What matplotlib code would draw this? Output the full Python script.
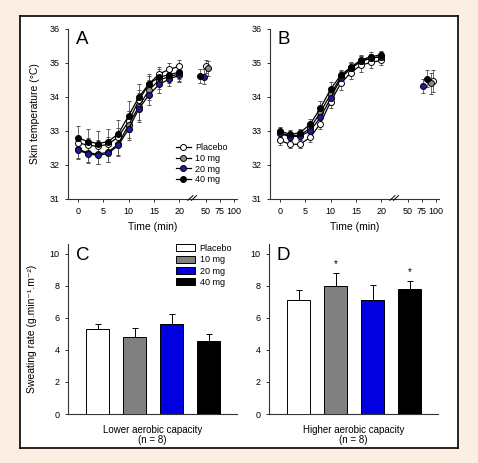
import matplotlib.pyplot as plt
import matplotlib.patches as mpatches
from matplotlib.lines import Line2D
import numpy as np

plt.rcParams['font.family'] = ['Liberation Sans', 'DejaVu Sans']
plt.rcParams['font.size'] = 7

# ---- data ----
groups = ['Placebo', '10 mg', '20 mg', '40 mg']
times = [0, 2, 4, 6, 8, 10, 12, 14, 16, 18, 20]

A_vals = {
    'Placebo': [32.66, 32.58, 32.55, 32.61, 32.83, 33.28, 33.90, 34.38, 34.68, 34.81, 34.91],
    '10 mg':   [32.47, 32.36, 32.32, 32.38, 32.62, 33.18, 33.72, 34.20, 34.50, 34.60, 34.68],
    '20 mg':   [32.44, 32.33, 32.28, 32.34, 32.58, 33.06, 33.65, 34.06, 34.37, 34.53, 34.64],
    '40 mg':   [32.80, 32.69, 32.63, 32.69, 32.92, 33.45, 33.99, 34.39, 34.58, 34.66, 34.73],
}
A_err = {
    'Placebo': [0.20, 0.20, 0.20, 0.20, 0.25, 0.30, 0.30, 0.25, 0.20, 0.18, 0.18],
    '10 mg':   [0.30, 0.30, 0.30, 0.30, 0.35, 0.40, 0.40, 0.30, 0.25, 0.20, 0.20],
    '20 mg':   [0.22, 0.25, 0.25, 0.25, 0.30, 0.32, 0.38, 0.30, 0.25, 0.22, 0.20],
    '40 mg':   [0.36, 0.36, 0.37, 0.38, 0.40, 0.42, 0.38, 0.30, 0.25, 0.20, 0.20],
}
A_post_t = {'Placebo': 50, '10 mg': 53, '20 mg': 47, '40 mg': 40}
A_post = {'Placebo': 34.90, '10 mg': 34.85, '20 mg': 34.60, '40 mg': 34.62}
A_post_err = {'Placebo': 0.20, '10 mg': 0.22, '20 mg': 0.22, '40 mg': 0.20}

B_vals = {
    'Placebo': [32.73, 32.61, 32.61, 32.81, 33.22, 33.86, 34.40, 34.72, 34.94, 35.02, 35.08],
    '10 mg':   [32.95, 32.86, 32.88, 33.08, 33.55, 34.08, 34.58, 34.85, 35.05, 35.15, 35.18],
    '20 mg':   [32.93, 32.83, 32.85, 33.00, 33.40, 33.96, 34.55, 34.85, 35.06, 35.14, 35.19],
    '40 mg':   [33.01, 32.90, 32.95, 33.20, 33.67, 34.23, 34.64, 34.88, 35.09, 35.19, 35.24],
}
B_err = {
    'Placebo': [0.13, 0.12, 0.12, 0.12, 0.15, 0.18, 0.20, 0.18, 0.20, 0.18, 0.15],
    '10 mg':   [0.12, 0.12, 0.12, 0.13, 0.18, 0.20, 0.18, 0.15, 0.15, 0.12, 0.12],
    '20 mg':   [0.12, 0.12, 0.12, 0.13, 0.18, 0.20, 0.18, 0.15, 0.15, 0.12, 0.12],
    '40 mg':   [0.12, 0.12, 0.12, 0.15, 0.20, 0.22, 0.15, 0.15, 0.15, 0.12, 0.12],
}
B_post_t = {'Placebo': 95, '10 mg': 91, '20 mg': 77, '40 mg': 84}
B_post = {'Placebo': 34.48, '10 mg': 34.40, '20 mg': 34.32, '40 mg': 34.53}
B_post_err = {'Placebo': 0.32, '10 mg': 0.30, '20 mg': 0.20, '40 mg': 0.25}

C_mean = [5.31, 4.79, 5.63, 4.54]
C_err = [0.31, 0.58, 0.62, 0.46]
D_mean = [7.08, 7.98, 7.08, 7.77]
D_err = [0.65, 0.81, 0.96, 0.52]
D_sig = ['', '*', '', '*']

xticks_t = [0, 5, 10, 15, 20, 50, 75, 100]

# ---- styles ----
marker_face = {'Placebo': 'white', '10 mg': '#8a8a8a', '20 mg': '#1c1ca0', '40 mg': 'black'}
bar_face = ['white', '#808080', '#0000e0', 'black']
MS = 4.3


def xpos(t):
    # broken time axis: 0-20 linear, then compressed after the break
    t = np.asarray(t, dtype=float)
    return np.where(t <= 20, t, 25.2 + (t - 50) * 0.11)


W, H = 478, 463
fig = plt.figure(figsize=(W / 100, H / 100), dpi=100, facecolor='#fdeee4')
frame = fig.add_axes([20 / W, 1 - 448 / H, 438 / W, 432 / H], zorder=-10)
frame.set_xticks([])
frame.set_yticks([])
for s in frame.spines.values():
    s.set_linewidth(1.2)
    s.set_color('black')


def style_axes(ax):
    for s in ['top', 'right']:
        ax.spines[s].set_visible(False)
    for s in ['left', 'bottom']:
        ax.spines[s].set_linewidth(0.8)
        ax.spines[s].set_color('#333333')
    ax.tick_params(direction='out', length=2.5, width=0.7, labelsize=6.5,
                   colors='#333333', labelcolor='black', pad=3.5)
    ax.set_facecolor('none')


def line_panel(ax, vals, errs, post_t, post, post_err, letter, ylabel=None):
    order = ['Placebo', '10 mg', '20 mg', '40 mg']
    for g in order:
        x = xpos(times)
        ax.errorbar(x, vals[g], yerr=errs[g], color='black', lw=0.9,
                    elinewidth=0.6, ecolor='#555555', capsize=1.5, capthick=0.6,
                    marker='o', ms=MS, mfc=marker_face[g], mec='black', mew=0.7,
                    zorder=3)
        ax.errorbar(xpos([post_t[g]]), [post[g]], yerr=[post_err[g]],
                    fmt='o', ms=MS, mfc=marker_face[g], mec='black', mew=0.7,
                    ecolor='#555555', elinewidth=0.6, capsize=1.5, capthick=0.6,
                    zorder=3)
    ax.set_xlim(-1.9, 31.3)
    ax.set_ylim(31, 36)
    ax.set_yticks([31, 32, 33, 34, 35, 36])
    ax.set_xticks(xpos(xticks_t))
    ax.set_xticklabels([str(t) for t in xticks_t])
    ax.set_xlabel('Time (min)', fontsize=7.5, labelpad=4)
    if ylabel:
        ax.set_ylabel(ylabel, fontsize=7.5, labelpad=7)
    style_axes(ax)
    # axis break marks
    for dx in (-0.35, 0.35):
        ax.plot([22.5 + dx - 0.5, 22.5 + dx + 0.5], [30.96, 31.1], color='black',
                lw=0.7, clip_on=False, zorder=5)
    ax.text(0.045, 0.99, letter, transform=ax.transAxes, fontsize=13.5,
            va='top', ha='left')


axA = fig.add_axes([68 / W, 1 - 199 / H, 169 / W, 170 / H])
axB = fig.add_axes([270 / W, 1 - 199 / H, 169 / W, 170 / H])
line_panel(axA, A_vals, A_err, A_post_t, A_post, A_post_err, 'A',
           ylabel='Skin temperature (°C)')
line_panel(axB, B_vals, B_err, B_post_t, B_post, B_post_err, 'B')

line_handles = [Line2D([], [], color='black', lw=0.9, marker='o', ms=MS,
                       mfc=marker_face[g], mec='black', mew=0.7) for g in groups]
axA.legend(line_handles, groups, loc='upper left', bbox_to_anchor=(0.64, 0.33),
           frameon=False, fontsize=6.5, handlelength=1.6, handletextpad=0.5,
           labelspacing=0.2, borderaxespad=0, borderpad=0)


def bar_panel(ax, means, errs, letter, xlabel, ylabel=None, sig=None):
    x = np.arange(len(means))
    ax.bar(x, means, width=0.62, color=bar_face, edgecolor='black', linewidth=0.7,
           yerr=[np.zeros(len(errs)), errs], capsize=2, zorder=3,
           error_kw=dict(elinewidth=0.7, capthick=0.7, ecolor='black'))
    if sig:
        for xi, m, e, s in zip(x, means, errs, sig):
            if s:
                ax.text(xi, m + e + 0.25, s, ha='center', va='bottom', fontsize=7)
    ax.set_xlim(-0.81, 3.76)
    ax.set_ylim(0, 10.6)
    ax.set_yticks([0, 2, 4, 6, 8, 10])
    ax.set_xticks([])
    ax.set_xlabel(xlabel, fontsize=7, labelpad=8, linespacing=1.0)
    if ylabel:
        ax.set_ylabel(ylabel, fontsize=7.5, labelpad=9)
    style_axes(ax)
    ax.text(0.045, 0.985, letter, transform=ax.transAxes, fontsize=13.5,
            va='top', ha='left')


axC = fig.add_axes([68 / W, 1 - 414 / H, 169 / W, 170 / H])
axD = fig.add_axes([269 / W, 1 - 414 / H, 169 / W, 170 / H])
bar_panel(axC, C_mean, C_err, 'C', 'Lower aerobic capacity\n(n = 8)',
          ylabel='Sweating rate (g.min⁻¹.m⁻²)')
bar_panel(axD, D_mean, D_err, 'D', 'Higher aerobic capacity\n(n = 8)', sig=D_sig)

handles = [mpatches.Patch(facecolor=c, edgecolor='black', linewidth=0.7) for c in bar_face]
axC.legend(handles, groups, loc='upper left', bbox_to_anchor=(0.64, 1.0),
           frameon=False, fontsize=6.5, handlelength=2.1, handleheight=0.8,
           handletextpad=0.5, labelspacing=0.25, borderaxespad=0, borderpad=0)

fig.savefig('out.png', dpi=100, facecolor=fig.get_facecolor())
